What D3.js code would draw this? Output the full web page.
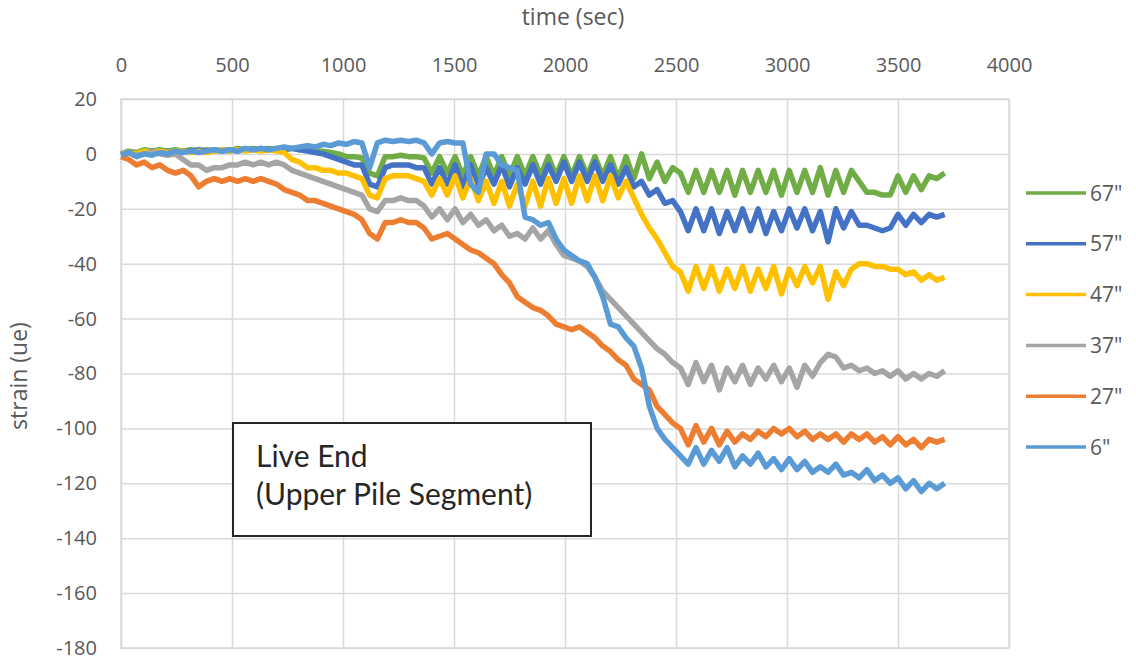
<!DOCTYPE html>
<html><head><meta charset="utf-8">
<script src="https://cdn.jsdelivr.net/npm/d3@7"></script>
<style>
body{margin:0;background:#fff}
svg{display:block}
text{font-family:"Open Sans",Lato,sans-serif;fill:#595959}
</style>
</head><body>
<svg id="chart" width="1136" height="661"></svg>
<script>
// Sample times (sec) shared by all gauges
const times = [0,35,70,105,140,175,210,245,280,315,350,385,420,455,490,525,560,595,630,665,
  700,735,770,805,840,875,910,945,980,1015,1050,1085,1120,1155,1190,1225,1260,1295,1330,1365,
  1400,1435,1470,1505,1540,1575,1610,1645,1680,1715,1750,1785,1820,1855,1890,1925,1960,1995,2030,2065,
  2100,2135,2170,2205,2240,2275,2310,2345,2380,2415,2450,2485,2520,2555,2590,2625,2660,2695,2730,2765,
  2800,2835,2870,2905,2940,2975,3010,3045,3080,3115,3150,3185,3220,3255,3290,3325,3360,3395,3430,3465,
  3500,3535,3570,3605,3640,3675,3710];

// Strain readings (microstrain) per gauge depth
const s67 = [0,1,0.5,1.5,1,1.5,1,1.5,1,1.5, 1,1.5,1,1.5,1,2,1.5,2,1.5,2,
  1.5,2,2,1.5,1.5,1,1,0.5,0,-1, -1,-1.5,-7,-8,-1,-1,-0.5,-1,-1,-1.5,
  -7,-1,-7,-1,-8,-1,-8,-1,-8,-1, -8,-1,-8,-1,-8,-1,-8,-1,-8,-1,
  -8,-1,-8,-1,-9,-1,-9,0,-9,-3, -10,-5,-7,-14,-6,-14,-6,-14,-6,-15,
  -6,-14,-6,-14,-6,-15,-6,-14,-6,-14, -5,-15,-6,-14,-6,-10,-14,-14,-15,-15,
  -8,-14,-8,-13,-8,-9,-7];
const s57 = [0,0.5,0,0.5,1,0.5,1,0.5,1,1, 1.5,1,1.5,1,1.5,1,1.5,1.5,2,1.5,
  2,1.5,2,1.5,1,0.5,0,-1,-2,-3, -4,-4,-11,-12,-5,-4,-4,-4,-5,-5,
  -11,-5,-11,-4,-12,-4,-12,-5,-11,-4, -12,-5,-11,-4,-11,-4,-10,-3,-10,-3,
  -10,-3,-10,-4,-11,-5,-12,-10,-15,-13, -18,-17,-21,-28,-20,-28,-20,-29,-21,-28,
  -20,-28,-20,-29,-21,-28,-20,-27,-20,-28, -21,-32,-20,-27,-21,-26,-26,-27,-28,-27,
  -22,-26,-22,-25,-22,-23,-22];
const s47 = [0,0.5,0,1,0.5,1,0.5,1,1,0.5, 1,0.5,1,1.5,1,1.5,1,1.5,1,1.5,
  1,0.5,-2,-3,-5,-5,-6,-6,-7,-7, -8,-9,-15,-16,-9,-8,-8,-8,-9,-10,
  -15,-9,-15,-8,-16,-9,-17,-10,-18,-10, -19,-11,-19,-10,-19,-9,-18,-9,-18,-8,
  -17,-8,-17,-8,-16,-10,-16,-22,-27,-31, -36,-41,-43,-50,-41,-49,-41,-50,-42,-49,
  -41,-50,-42,-49,-41,-51,-42,-48,-41,-47, -41,-53,-43,-48,-42,-40,-40,-41,-41,-42,
  -42,-44,-43,-46,-44,-46,-45];
const s37 = [0,0.5,-0.5,0,0.5,0,-0.5,0,-2,-4, -4,-6,-5,-5,-4,-4,-3,-4,-3,-4,
  -3,-4,-6,-7,-8,-9,-10,-11,-12,-13, -14,-15,-20,-21,-17,-17,-16,-17,-17,-19,
  -23,-20,-24,-20,-25,-22,-26,-24,-28,-26, -30,-29,-31,-27,-31,-28,-33,-37,-38,-39,
  -41,-45,-50,-53,-56,-59,-62,-65,-68,-71, -73,-76,-78,-84,-76,-83,-77,-86,-78,-83,
  -77,-84,-78,-82,-77,-83,-78,-85,-77,-81, -76,-73,-74,-78,-77,-79,-78,-80,-79,-81,
  -79,-82,-80,-82,-80,-81,-79];
const s27 = [-1,-2,-4,-3,-5,-4,-6,-7,-6,-8, -12,-10,-9,-10,-9,-10,-9,-10,-9,-10,
  -11,-13,-14,-15,-17,-17,-18,-19,-20,-21, -22,-24,-29,-31,-25,-25,-24,-25,-25,-27,
  -31,-30,-29,-31,-33,-35,-36,-38,-40,-44, -47,-52,-54,-56,-57,-59,-62,-63,-64,-63,
  -65,-67,-70,-72,-75,-77,-82,-84,-86,-92, -95,-98,-100,-106,-99,-105,-100,-106,-101,-105,
  -102,-104,-101,-103,-100,-102,-100,-103,-101,-104, -102,-104,-102,-105,-102,-104,-102,-105,-103,-106,
  -103,-106,-104,-107,-104,-105,-104];
const s6 = [-0.5,0.5,-1,0,-0.5,0.5,0,1,0.5,1, 0.5,1,1.5,1,1.5,1,2,1.5,2,1.5,
  2,2.5,2,2.5,3,2.5,3.5,3,4,3.5, 4.5,4,-5,4,5,4.5,5,4.5,5,4,
  0,4,4.5,4,4,-11,-14,0,0,-4, -5,-6,-23,-24,-26,-25,-31,-35,-37,-39,
  -40,-45,-52,-62,-63,-67,-70,-78,-92,-100, -104,-107,-110,-113,-107,-113,-108,-112,-107,-114,
  -110,-113,-109,-114,-111,-115,-111,-115,-112,-116, -114,-116,-113,-117,-116,-118,-115,-119,-117,-120,
  -118,-122,-119,-123,-120,-122,-120];

const seriesNames = ['67"', '57"', '47"', '37"', '27"', '6"'];
const seriesValues = [s67, s57, s47, s37, s27, s6];
const seriesColors = ["#70ad47", "#4472c4", "#ffc000", "#a5a5a5", "#ed7d31", "#5b9bd5"];

const xTicks = [0,500,1000,1500,2000,2500,3000,3500,4000];
const yTicks = [20,0,-20,-40,-60,-80,-100,-120,-140,-160,-180];

const svg = d3.select("#chart");
const x = d3.scaleLinear().domain([0, 4000]).range([121, 1009]);
const y = d3.scaleLinear().domain([-180, 20]).range([648, 99]);
const gridColor = "#d9d9d9";
const plain = d => String(d);   // no thousands separator, ASCII minus

// Time axis along the top, gridlines running down the plot
const gx = svg.append("g").attr("transform", `translate(0,${y(20)})`)
  .call(d3.axisTop(x).tickValues(xTicks).tickFormat(plain)
    .tickSize(-(y(-180) - y(20))).tickPadding(27));
// Strain axis on the left, gridlines running across
const gy = svg.append("g").attr("transform", `translate(${x(0)},0)`)
  .call(d3.axisLeft(y).tickValues(yTicks).tickFormat(plain)
    .tickSize(-(x(4000) - x(0))).tickPadding(24));
[gx, gy].forEach(g => {
  g.select(".domain").remove();
  g.selectAll(".tick line").attr("stroke", gridColor).attr("stroke-width", 1.5);
  g.selectAll(".tick text").attr("fill", "#595959").style("font-size", "20px")
    .style("font-family", '"Open Sans", sans-serif');
});

svg.append("rect").attr("x", x(0)).attr("y", y(20))
  .attr("width", x(4000) - x(0)).attr("height", y(-180) - y(20))
  .attr("fill", "none").attr("stroke", gridColor).attr("stroke-width", 1.5);

// Axis titles
svg.append("text").attr("x", 573).attr("y", 25).attr("text-anchor", "middle")
  .style("font-size", "23px").text("time (sec)");
svg.append("text").attr("transform", "translate(27,376) rotate(-90)")
  .attr("text-anchor", "middle").style("font-size", "23px").text("strain (ue)");

// Strain traces
const line = d3.line().x((d, i) => x(times[i])).y(d => y(d));
seriesValues.forEach((vals, k) => {
  svg.append("path").datum(vals)
    .attr("d", line)
    .attr("fill", "none")
    .attr("stroke", seriesColors[k])
    .attr("stroke-width", 5.5)
    .attr("stroke-linejoin", "round");
});

// Legend
const legend = svg.append("g");
seriesNames.forEach((name, k) => {
  const ly = 193 + k * 50.8;
  legend.append("line").attr("x1", 1026).attr("x2", 1086).attr("y1", ly).attr("y2", ly)
    .attr("stroke", seriesColors[k]).attr("stroke-width", 3.5);
  legend.append("text").attr("x", 1090).attr("y", ly).attr("dy", "0.36em")
    .style("font-size", "21px").text(name);
});

// Annotation box
svg.append("rect").attr("x", 233).attr("y", 423).attr("width", 358).attr("height", 113)
  .attr("fill", "#fff").attr("stroke", "#262626").attr("stroke-width", 2);
svg.append("text").attr("x", 256).attr("y", 467).style("font-size", "30px")
  .style("fill", "#262626").style("font-family", "Lato, sans-serif").text("Live End");
svg.append("text").attr("x", 256).attr("y", 505).style("font-size", "30px")
  .style("fill", "#262626").style("font-family", "Lato, sans-serif").text("(Upper Pile Segment)");
</script>
</body></html>
